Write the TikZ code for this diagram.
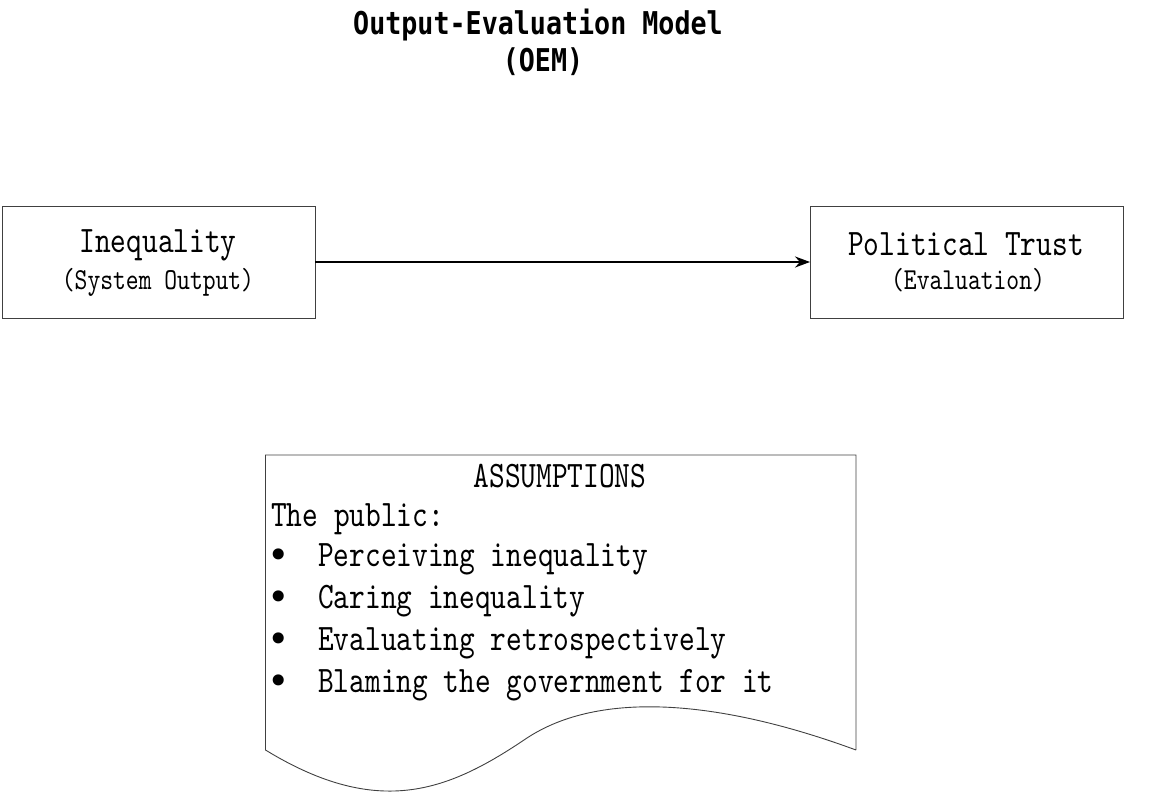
\documentclass[tikz,border=0pt]{standalone}
\usepackage{fontspec}
\usetikzlibrary{arrows.meta}
\newfontfamily\sunfont{lmmono10-regular.otf}[FakeStretch=0.8]
\newfontfamily\heifont{DejaVu Sans Mono}[FakeStretch=0.85]
\newfontfamily\bulletfont{DejaVu Sans}
\tikzset{
  box/.style={draw=black!75, line width=0.9pt, minimum width=313pt, minimum height=112pt, inner sep=0pt},
  big/.style={inner sep=0pt, font=\sunfont\fontsize{37.4}{40}\selectfont},
  small/.style={inner sep=0pt, font=\sunfont\fontsize{30.5}{32}\selectfont},
  ttl/.style={inner sep=0pt, font=\heifont\bfseries\fontsize{31.4}{33}\selectfont},
  bul/.style={inner sep=0pt, font=\bulletfont\fontsize{38}{40}\selectfont},
  conn/.style={line width=1.8pt, -{Stealth[length=15pt,width=11pt]}},
  doc/.style={draw=black!75, line width=0.9pt}
}
\begin{document}
\begin{tikzpicture}[x=1pt,y=-1pt]
\useasboundingbox (0,0) rectangle (1161,794);
% title
\node[ttl, anchor=base] (t1) at (538,35) {Output-Evaluation Model};
\node[ttl, anchor=base] (t2) at (543,72) {(OEM)};
% boxes
\node[box] (ineq) at (158.5,262) {};
\node[box] (trust) at (967,262) {};
\node[big, anchor=base] (ineqA) at (158,253) {Inequality};
\node[small, anchor=base] (ineqB) at (158,289) {(System Output)};
\node[big, anchor=base] (trustA) at (966,256) {Political Trust};
\node[small, anchor=base] (trustB) at (968,289) {(Evaluation)};
\draw[conn] (ineq.east) -- (trust.west);
% document shape
\draw[doc] (856,750) -- (856,455) -- (265.5,455) -- (265.5,750)
  .. controls (380,820) and (450,790) .. (527,738)
  .. controls (600,690) and (720,700) .. (856,750);
\node[big, anchor=base] (ass) at (560,487) {ASSUMPTIONS};
\node[big, anchor=base west] (pub) at (271,526) {The public:};
\foreach \yy/\txt [count=\i] in {566/Perceiving inequality, 608/Caring inequality, 650/Evaluating retrospectively, 692/Blaming the government for it}{
  \node[bul, anchor=base] (b\i) at (278.5,\yy+2) {•};
  \node[big, anchor=base west] (l\i) at (318,\yy) {\txt};
}
\end{tikzpicture}
\end{document}
